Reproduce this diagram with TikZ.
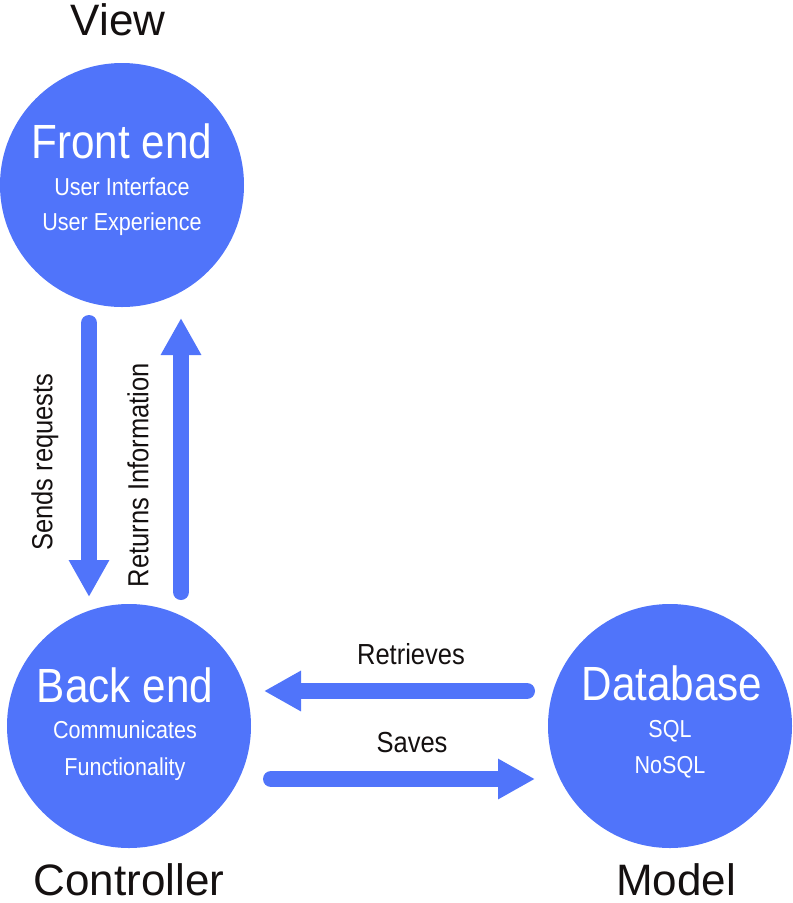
\documentclass[tikz,border=0pt]{standalone}
\usepackage{fontspec}
\setmainfont{Liberation Sans}[FakeStretch=0.88]
\newfontfamily\rolefont{Liberation Sans}
\usetikzlibrary{arrows.meta}
\definecolor{mvcblue}{RGB}{80,116,250}
\definecolor{labelblack}{RGB}{20,16,16}
\begin{document}
\begin{tikzpicture}[x=1pt,y=-1pt,
  circ/.style={circle,fill=mvcblue,minimum size=244pt,inner sep=0pt},
  titletext/.style={text=white,anchor=base,inner sep=0pt,font=\fontsize{48}{48}\selectfont},
  subtext/.style={text=white,anchor=base,inner sep=0pt,font=\fontsize{24.5}{24.5}\selectfont},
  roletext/.style={text=labelblack,anchor=base,inner sep=0pt,font=\rolefont\fontsize{44}{44}\selectfont},
  arrowlabel/.style={text=labelblack,inner sep=0pt,font=\fontsize{29}{29}\selectfont},
  bigarrow/.style={draw=mvcblue,line width=16pt,line cap=round,
    -{Triangle[length=37pt,width=38pt,fill=mvcblue]}}]
\useasboundingbox (0,0) rectangle (793,903);

% circles
\node[circ] (front) at (122,185) {};
\node[circ] (back) at (129,726) {};
\node[circ] (db) at (670,726) {};

% circle texts
\node[titletext] (fronttitle) at (122,158) {Front end};
\node[subtext] (ui) at (122,195) {User Interface};
\node[subtext] (ux) at (122,230) {User Experience};

\node[titletext] (backtitle) at (125,702) {Back end};
\node[subtext] (comm) at (125,738) {Communicates};
\node[subtext] (func) at (125,775) {Functionality};

\node[titletext] (dbtitle) at (672,700) {Database};
\node[subtext] (sql) at (670,737) {SQL};
\node[subtext] (nosql) at (670,773) {NoSQL};

% role labels
\node[roletext] (view) at (118,35) {View};
\node[roletext] (controller) at (129,895) {Controller};
\node[roletext] (model) at (676,895) {Model};

% arrow end points
\coordinate (sendsA) at (89,323);
\coordinate (sendsB) at (89,597);
\coordinate (retA) at (181,592);
\coordinate (retB) at (181,318);
\coordinate (retrA) at (527,691);
\coordinate (retrB) at (264,691);
\coordinate (saveA) at (271,779);
\coordinate (saveB) at (535,779);

\draw[bigarrow] (sendsA) -- (sendsB);
\draw[bigarrow] (retA) -- (retB);
\draw[bigarrow] (retrA) -- (retrB);
\draw[bigarrow] (saveA) -- (saveB);

% arrow labels
\node[arrowlabel,rotate=90] (sendslbl) at (45,462) {Sends requests};
\node[arrowlabel,rotate=90] (retlbl) at (138,475) {Returns Information};
\node[arrowlabel] (retrlbl) at (411,654) {Retrieves};
\node[arrowlabel] (savelbl) at (412,743) {Saves};
\end{tikzpicture}
\end{document}
